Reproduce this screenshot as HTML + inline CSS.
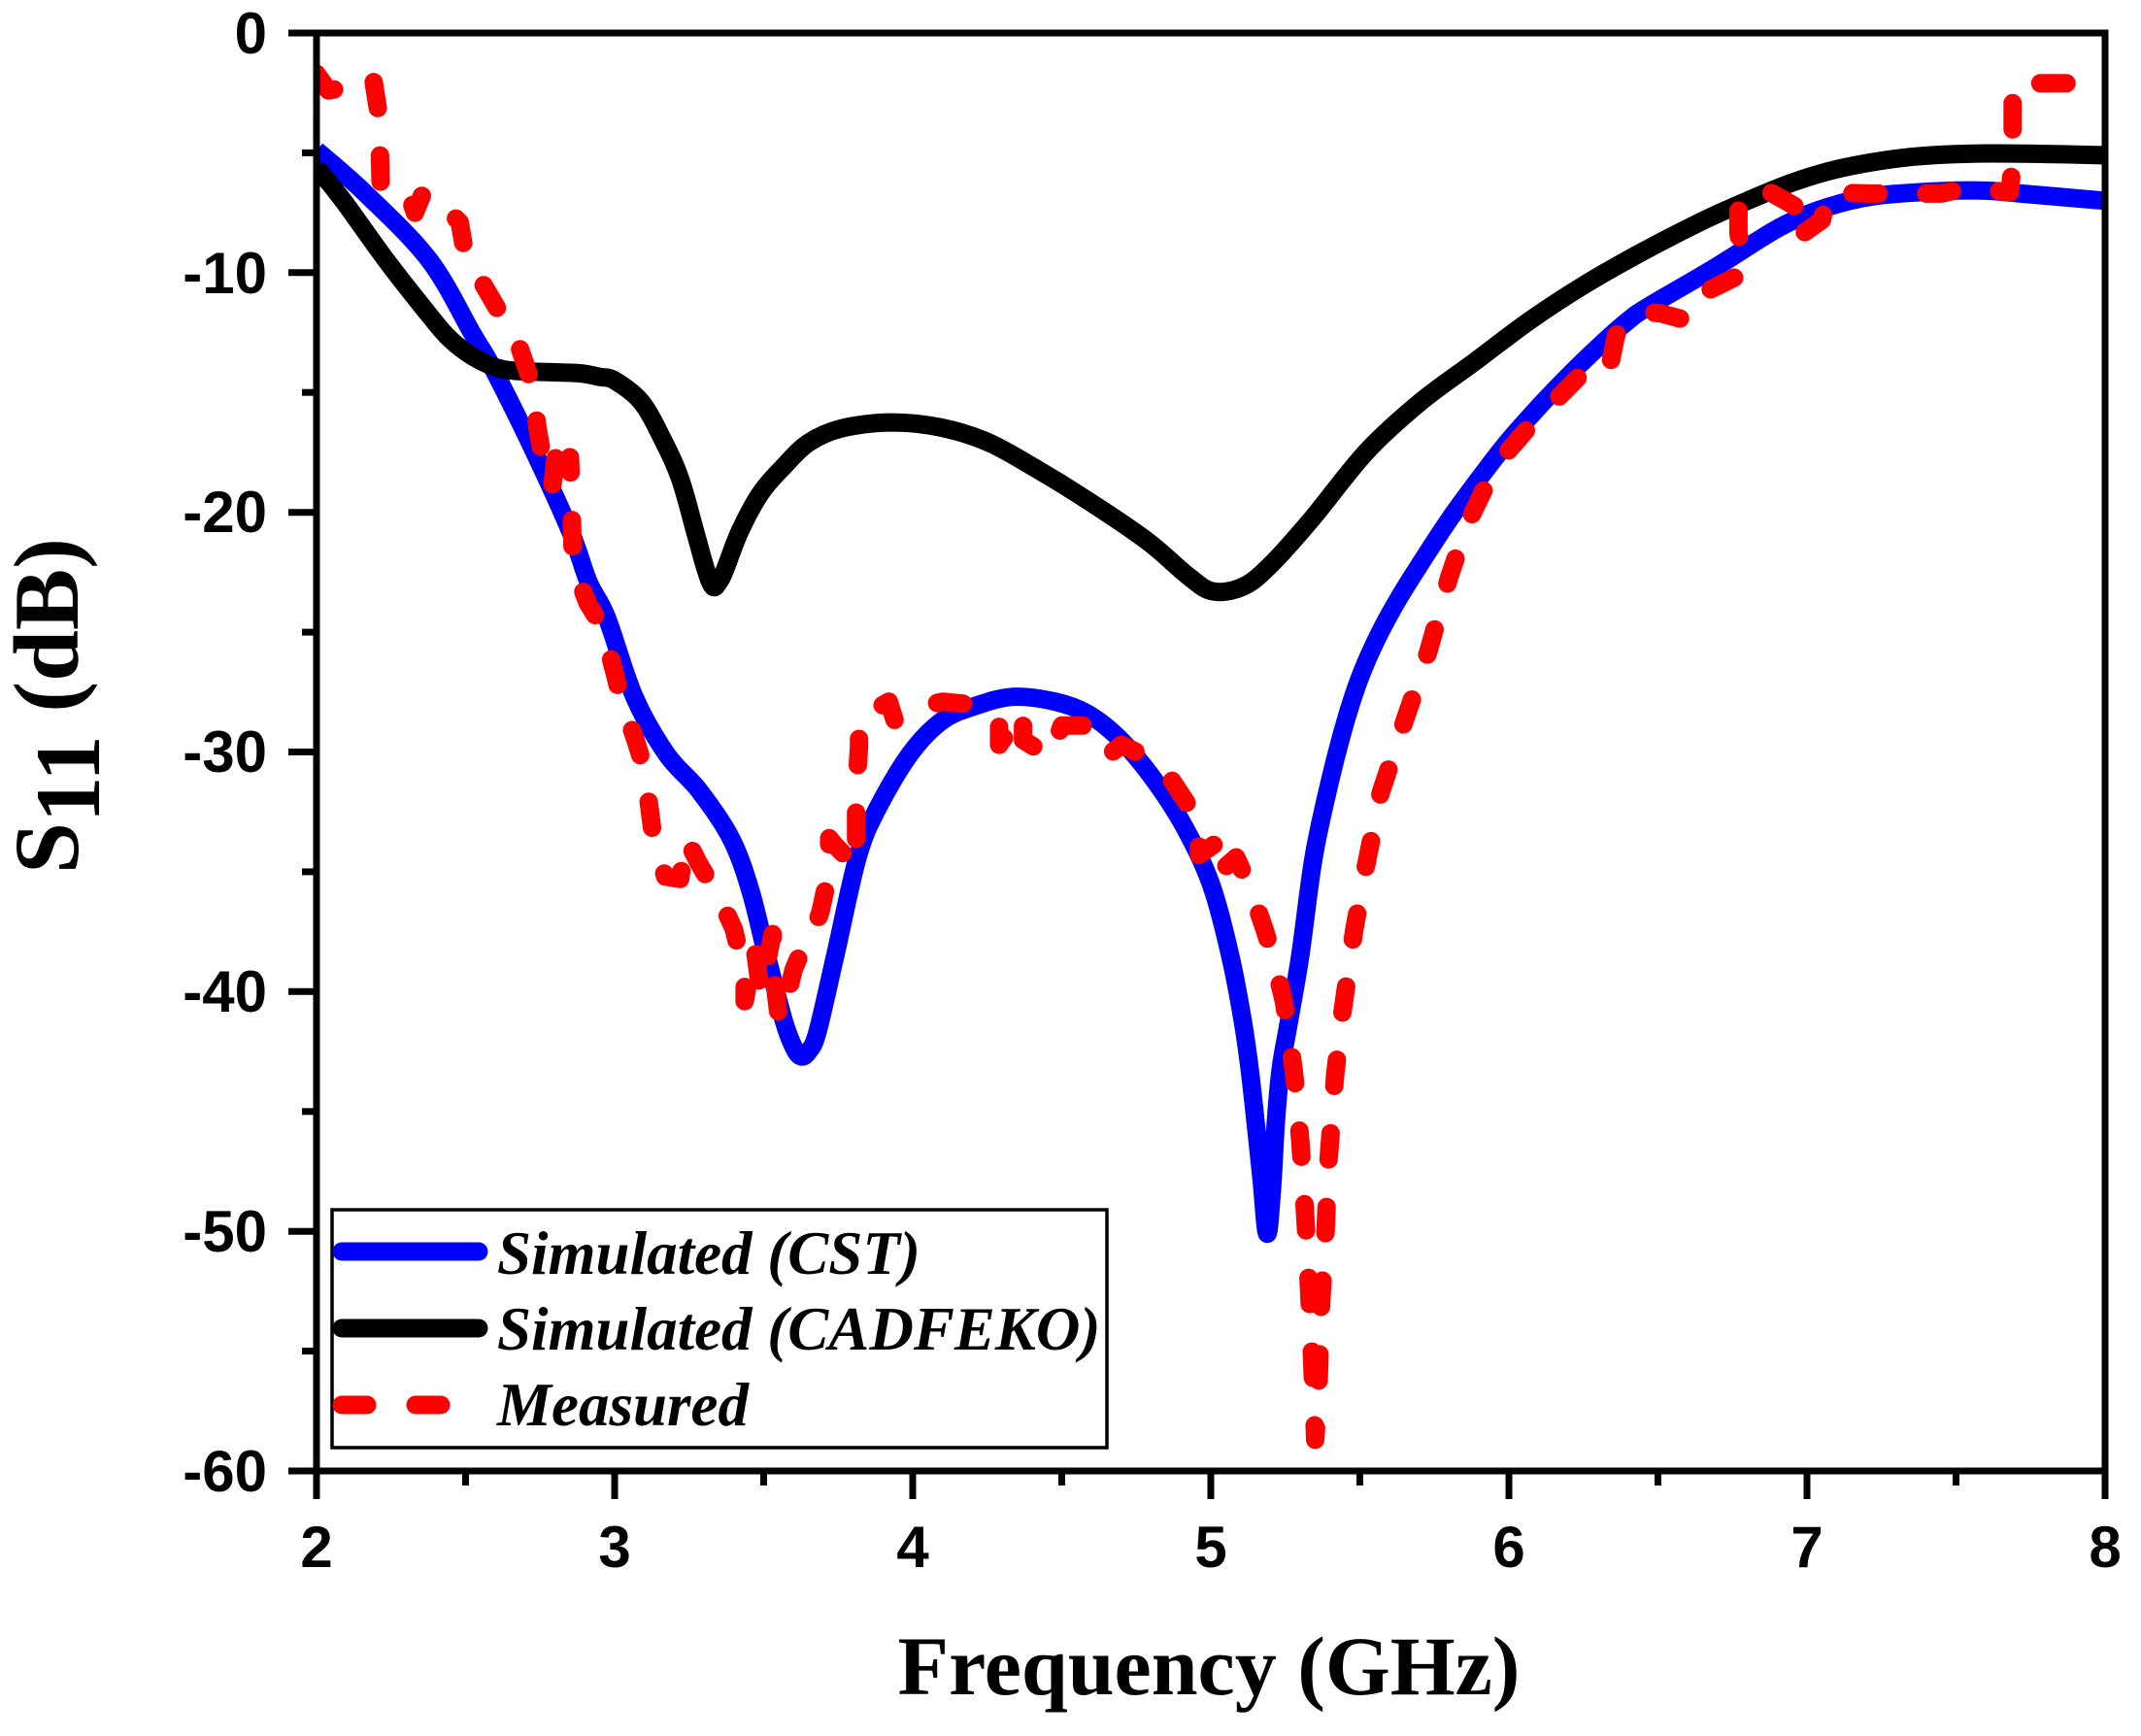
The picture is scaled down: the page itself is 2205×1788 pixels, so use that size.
<!DOCTYPE html>
<html>
<head>
<meta charset="utf-8">
<style>
html,body{margin:0;padding:0;background:#fff;}
svg{display:block;}
</style>
</head>
<body>
<svg id="chart" width="2205" height="1788" viewBox="0 0 2205 1788" xmlns="http://www.w3.org/2000/svg">
<defs>
<clipPath id="plot"><rect x="326" y="0" width="1842" height="1788"/></clipPath>
</defs>
<rect x="0" y="0" width="2205" height="1788" fill="#fff"/>

<!-- curves -->
<g clip-path="url(#plot)" fill="none" stroke-linejoin="round">
<polyline class="smooth" stroke="#0000ff" stroke-width="19" stroke-linecap="butt" fill="none" points="
326,154.9 376,198.9 442,267.7 486.9,344.3 509,382 552.9,470.9 588.5,549.9 606,599.2 625,636.3 653.3,717.7 686.7,777 719.9,814 752.7,863.3 773,917.7 789.6,984.3 807.1,1050.9 817.2,1078.1 824.9,1088 832.6,1083 841.8,1063.3 860.2,984.3 883.2,883.1 903.2,833.7 936.9,777 970.1,742.4 1002.9,727.6 1043.2,717.7 1086.7,722.7 1119.9,735 1151.8,759.7 1185.6,799.2 1219.4,851 1247,910.2 1267,984.3 1279.8,1050.9 1286.9,1100.3 1293,1154.6 1299.2,1213.8 1305,1270.6 1309.9,1226.2 1313.9,1157.1 1319.1,1100.3 1326.8,1055.9 1339.1,984.3 1352.9,883.1 1369.8,804.1 1385.2,744.9 1400.5,698 1418.9,656 1440.4,616.5 1461.9,582 1492.6,535.1 1523.3,493.1 1554,453.6 1584.7,419.1 1615.4,387 1646.1,357.3 1676.8,330.2 1698.3,315.4 1765.8,275.9 1833.4,233.9 1882.5,213.2 1931.6,201.8 1999.2,196.9 2045.2,196.4 2082,199.4 2168,206.8"/>
<polyline class="smooth" stroke="#000000" stroke-width="19" stroke-linecap="butt" fill="none" points="
326,172.2 353.6,206.8 398.1,268.5 442.7,325.3 464.2,349.9 486.9,367.2 510.2,378.3 531.1,382 565.5,383.3 597.1,384.5 617.7,388.2 633,391.9 660.6,414.1 683,453.6 700.5,493.1 715.9,547.4 727,586.9 734.3,604.2 740.5,599.2 746.6,586.9 761.9,547.4 783.4,507.9 806.8,480.8 832.6,456.1 866.3,441.3 917,435.1 967.6,440 1016.8,455.1 1065.9,482 1119.9,515.3 1181.6,557.3 1223.7,593.3 1249.1,609.1 1280.2,604.2 1308.4,582 1350.5,535.1 1406.6,466 1462.8,414.1 1519.3,372.2 1575.5,330.2 1632,293.2 1688.2,261.1 1750.5,229 1799.6,206.8 1848.7,187 1900.9,172.2 1968.5,161.6 2032.9,158.2 2106.6,158.6 2168,159.9"/>
<polyline stroke="#ff0000" stroke-width="19" stroke-linecap="round" stroke-dasharray="27 49" fill="none" points="
326,76 338.3,93.2 350.6,90.8 369,77.2 384.3,80.9 390.5,120.4 392,189.5 418.1,192 427.3,219.1 436.5,196.9 451.9,206.8 473.4,229 479.5,263.5 494.9,288.2 519.4,330.2 534.8,357.3 550.1,401.8 553.2,438.8 559.3,473.4 568.5,503 574.7,451.1 577.7,478.3 587,470.9 588.5,510.4 590,582 605.4,621.5 620.7,646.1 633,693 639.1,717.7 654.5,762.1 663.7,791.8 672.9,863.3 685.1,902.8 700.5,905.3 706.7,863.3 719,888 743.5,930 755.8,957.1 766.9,1004 766.9,1031.2 777.3,976.9 783.4,1021.3 795.7,962.1 795.7,994.2 801.9,1046 804.9,1050.9 817.2,999.1 826.4,976.9 832.6,972 844.8,939.9 854,897.9 854,863.3 860.2,870.8 881.7,893 881.7,814 884.7,769.6 884.7,739.9 915.4,722.7 921.6,742.4 940,730.1 970.7,722.7 995.3,725.1 1029,739.9 1029,767.1 1053.6,732.5 1053.6,762.1 1081.2,779.4 1093.5,747.3 1121.1,747.3 1127.3,764.6 1142.6,777 1154.9,767.1 1185.6,781.9 1207.1,804.1 1234.7,846.1 1234.7,880.6 1256.2,865.8 1256.2,897.9 1273.1,883.1 1286.9,912.7 1302.3,957.1 1311.5,986.8 1322.2,1031.2 1326.8,1060.8 1333,1107.7 1336,1137.3 1339.1,1174.4 1342.2,1218.8 1345.2,1268.2 1348.3,1329.9 1351.4,1401.4 1354.5,1482.9 1357.5,1440.9 1360.6,1342.2 1365.2,1268.2 1368.3,1194.1 1375,1107.7 1382.1,1046 1394.4,959.6 1406.6,893 1422,816.5 1446.6,742.4 1471.1,670.8 1492.6,594.3 1511,540 1532.5,495.6 1554,463.5 1575.5,438.8 1600.1,414.1 1624.6,389.4 1646.1,367.2 1658.4,374.6 1664.5,345 1689.1,320.3 1710.6,322.8 1738.2,330.2 1756.6,300.6 1796.5,280.8 1790.4,240.1 1790.4,203.1 1821.1,196.9 1851.8,214.2 1848.7,246.3 1876.4,226.5 1882.5,198.1 1925.5,199.4 1999.2,199.4 2026.8,193.2 2069.8,198.1 2072.8,167.3 2072.8,108 2072.8,85.8 2131.2,85.8 2152,87 2168,90.8"/>
</g>

<!-- axes frame -->
<rect x="326" y="34" width="1842" height="1481" fill="none" stroke="#000" stroke-width="7"/>

<!-- x ticks -->
<g stroke="#000" stroke-width="7">
<line x1="326" y1="1515" x2="326" y2="1544"/>
<line x1="633" y1="1515" x2="633" y2="1544"/>
<line x1="940" y1="1515" x2="940" y2="1544"/>
<line x1="1247" y1="1515" x2="1247" y2="1544"/>
<line x1="1554" y1="1515" x2="1554" y2="1544"/>
<line x1="1861" y1="1515" x2="1861" y2="1544"/>
<line x1="2168" y1="1515" x2="2168" y2="1544"/>
<line x1="479.5" y1="1515" x2="479.5" y2="1530"/>
<line x1="786.5" y1="1515" x2="786.5" y2="1530"/>
<line x1="1093.5" y1="1515" x2="1093.5" y2="1530"/>
<line x1="1400.5" y1="1515" x2="1400.5" y2="1530"/>
<line x1="1707.5" y1="1515" x2="1707.5" y2="1530"/>
<line x1="2014.5" y1="1515" x2="2014.5" y2="1530"/>
</g>
<!-- y ticks -->
<g stroke="#000" stroke-width="7">
<line x1="297" y1="34" x2="326" y2="34"/>
<line x1="297" y1="280.8" x2="326" y2="280.8"/>
<line x1="297" y1="527.7" x2="326" y2="527.7"/>
<line x1="297" y1="774.5" x2="326" y2="774.5"/>
<line x1="297" y1="1021.3" x2="326" y2="1021.3"/>
<line x1="297" y1="1268.2" x2="326" y2="1268.2"/>
<line x1="297" y1="1515" x2="326" y2="1515"/>
<line x1="311" y1="157.4" x2="326" y2="157.4"/>
<line x1="311" y1="404.2" x2="326" y2="404.2"/>
<line x1="311" y1="651.1" x2="326" y2="651.1"/>
<line x1="311" y1="897.9" x2="326" y2="897.9"/>
<line x1="311" y1="1144.8" x2="326" y2="1144.8"/>
<line x1="311" y1="1391.6" x2="326" y2="1391.6"/>
</g>

<!-- tick labels -->
<g font-family="'Liberation Sans', Arial, sans-serif" font-weight="bold" font-size="60" fill="#000">
<g text-anchor="end">
<text x="275" y="55">0</text>
<text x="275" y="302">-10</text>
<text x="275" y="548">-20</text>
<text x="275" y="795">-30</text>
<text x="275" y="1042">-40</text>
<text x="275" y="1289">-50</text>
<text x="275" y="1536">-60</text>
</g>
<g text-anchor="middle">
<text x="326" y="1614">2</text>
<text x="633" y="1614">3</text>
<text x="940" y="1614">4</text>
<text x="1247" y="1614">5</text>
<text x="1554" y="1614">6</text>
<text x="1861" y="1614">7</text>
<text x="2168" y="1614">8</text>
</g>
</g>

<!-- axis titles -->
<text x="1245" y="1745" text-anchor="middle" font-family="'Liberation Serif', 'Times New Roman', serif" font-weight="bold" font-size="86" fill="#000">Frequency (GHz)</text>
<text transform="translate(80,727) rotate(-90)" text-anchor="middle" font-family="'Liberation Serif', 'Times New Roman', serif" font-weight="bold" font-size="95" fill="#000">S<tspan dy="22">11</tspan><tspan dy="-22"> (dB)</tspan></text>

<!-- legend -->
<rect x="342" y="1246" width="798" height="245" fill="#fff" stroke="#000" stroke-width="3.5"/>
<line x1="352" y1="1289" x2="493" y2="1289" stroke="#0000ff" stroke-width="19" stroke-linecap="round"/>
<line x1="352" y1="1368" x2="493" y2="1368" stroke="#000" stroke-width="19" stroke-linecap="round"/>
<line x1="352" y1="1447" x2="378" y2="1447" stroke="#ff0000" stroke-width="19" stroke-linecap="round"/>
<line x1="428" y1="1447" x2="454" y2="1447" stroke="#ff0000" stroke-width="19" stroke-linecap="round"/>
<g font-family="'Liberation Serif', 'Times New Roman', serif" font-weight="bold" font-style="italic" font-size="63" fill="#000">
<text x="512" y="1312">Simulated (CST)</text>
<text x="512" y="1390">Simulated (CADFEKO)</text>
<text x="512" y="1468">Measured</text>
</g>
</svg>
<script>
(function(){
  var NS = "http://www.w3.org/2000/svg";
  var lines = document.querySelectorAll('polyline.smooth');
  for (var k = 0; k < lines.length; k++) {
    var pl = lines[k];
    var raw = pl.getAttribute('points').trim().split(/\s+/);
    var p = [];
    for (var i = 0; i < raw.length; i++) {
      var xy = raw[i].split(',');
      p.push([parseFloat(xy[0]), parseFloat(xy[1])]);
    }
    var d = 'M' + p[0][0] + ',' + p[0][1];
    for (var i = 0; i < p.length - 1; i++) {
      var p0 = p[i - 1] || p[i], p1 = p[i], p2 = p[i + 1], p3 = p[i + 2] || p[i + 1];
      var c1x = p1[0] + (p2[0] - p0[0]) / 6, c1y = p1[1] + (p2[1] - p0[1]) / 6;
      var c2x = p2[0] - (p3[0] - p1[0]) / 6, c2y = p2[1] - (p3[1] - p1[1]) / 6;
      d += ' C' + c1x.toFixed(1) + ',' + c1y.toFixed(1) + ' ' + c2x.toFixed(1) + ',' + c2y.toFixed(1) + ' ' + p2[0] + ',' + p2[1];
    }
    var path = document.createElementNS(NS, 'path');
    path.setAttribute('d', d);
    path.setAttribute('fill', 'none');
    path.setAttribute('stroke', pl.getAttribute('stroke'));
    path.setAttribute('stroke-width', pl.getAttribute('stroke-width'));
    path.setAttribute('stroke-linecap', 'butt');
    path.setAttribute('stroke-linejoin', 'round');
    pl.parentNode.replaceChild(path, pl);
  }
})();
</script>
</body>
</html>
